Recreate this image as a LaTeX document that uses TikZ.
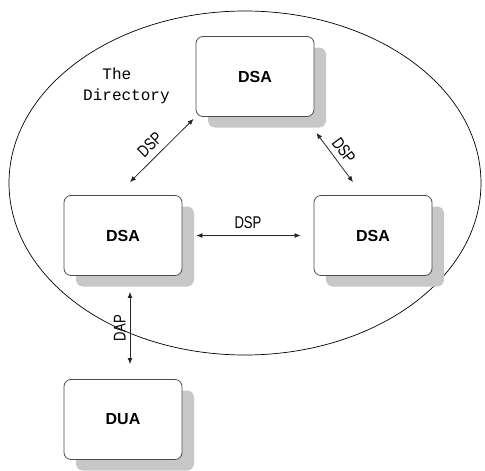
\documentclass[tikz,border=0pt]{standalone}
\usepackage{fontspec}
\setmainfont{Liberation Sans}
\newfontfamily\monofont{Liberation Mono}
\newfontfamily\narrowfont[FakeStretch=0.77]{Liberation Sans}
\usetikzlibrary{arrows.meta,shadows,positioning}

\begin{document}
\begin{tikzpicture}[x=1pt,y=-1pt]
\useasboundingbox (0,0) rectangle (485,471);

\draw[line width=0.7pt] (245,183) ellipse [x radius=236, y radius=172];
\node[font=\monofont\fontsize{16}{21}\selectfont, align=left,
      anchor=north west, inner sep=0pt] (dirlabel) at (83,68)
      {\hphantom{Di}The\\Directory};

\begin{scope}[every node/.style={draw=black!70,line width=0.8pt,
              rounded corners=7pt,fill=white,
              minimum width=118pt,minimum height=80pt,
              font=\bfseries\fontsize{16}{18}\selectfont,
              drop shadow={shadow xshift=12pt,shadow yshift=-11pt,
                           fill=black!22,opacity=1}}]
    \node (T) at (255,76.5) {DSA};
    \node (L) at (123,235.5) {DSA};
    \node (R) at (373,235.5) {DSA};
    \node (U) at (123,419.5) {DUA};
\end{scope}

\begin{scope}[>={Latex[length=6pt,width=5pt]},
              every node/.style={font=\narrowfont\fontsize{17}{20}\selectfont,
                                 inner sep=1pt},
              every edge/.style={draw=black!85,line width=0.8pt}]
    \path [<->] ([xshift=7pt,yshift=13pt]L.north) edge node[sloped,above=5pt,pos=0.45] {DSP} ([xshift=-2pt,yshift=-2pt]T.south west);
    \path [<->] ([xshift=2pt,yshift=-16pt]T.south east) edge node[sloped,above=4pt] {DSP} ([xshift=-20pt,yshift=13pt]R.north);
    \path [<->] (L) edge[shorten <=14pt,shorten >=13pt] node[above=5pt] {DSP} (R);
    \path [<->] ([xshift=7pt,yshift=15pt]U.north) edge node[sloped,above=3pt] {DAP} ([xshift=7pt,yshift=-16pt]L.south);
\end{scope}
\end{tikzpicture}
\end{document}
